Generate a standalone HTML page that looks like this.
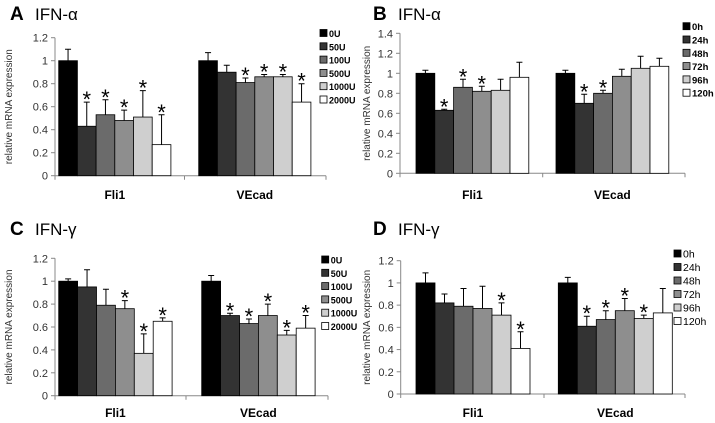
<!DOCTYPE html>
<html><head><meta charset="utf-8"><style>
body{margin:0;background:#fff}
svg{display:block;font-family:"Liberation Sans",sans-serif}
</style></head><body>
<svg id="fig" width="715" height="423" viewBox="0 0 715 423"></svg>
<script>
const categories = ["Fli1","VEcad"];
const doseLabels = ["0U","50U","100U","500U","1000U","2000U"];
const timeLabels = ["0h","24h","48h","72h","96h","120h"];
const colors = ["#000","#333","#6b6b6b","#8e8e8e","#cfcfcf","#fff"];

const aVals = [[1,0.43,0.53,0.48,0.51,0.27],[1,0.9,0.81,0.86,0.86,0.64]];
const aErr  = [[1.1,0.64,0.66,0.57,0.74,0.53],[1.07,0.96,0.85,0.88,0.88,0.8]];
const aStar = [[0,1,1,1,1,1],[0,0,1,1,1,1]];
const bVals = [[1,0.63,0.86,0.82,0.83,0.96],[1,0.7,0.8,0.97,1.05,1.07]];
const bErr  = [[1.03,0.64,0.94,0.87,0.94,1.11],[1.03,0.79,0.83,1.04,1.17,1.15]];
const bStar = [[0,1,1,1,0,0],[0,1,1,0,0,0]];
const cVals = [[1,0.95,0.79,0.76,0.37,0.65],[1,0.7,0.63,0.7,0.53,0.59]];
const cErr  = [[1.02,1.1,0.93,0.83,0.54,0.68],[1.05,0.72,0.67,0.8,0.57,0.7]];
const cStar = [[0,0,0,1,1,1],[0,1,1,1,1,1]];
const dVals = [[1,0.82,0.79,0.77,0.71,0.41],[1,0.61,0.67,0.75,0.68,0.73]];
const dErr  = [[1.09,0.9,0.95,0.97,0.82,0.56],[1.05,0.7,0.75,0.86,0.71,0.95]];
const dStar = [[0,0,0,0,1,1],[0,1,1,1,1,0]];
const ticks12 = ["0","0.2","0.4","0.6","0.8","1","1.2"];
const ticks14 = ["0","0.2","0.4","0.6","0.8","1","1.2","1.4"];

const NS="http://www.w3.org/2000/svg";
const svg=document.getElementById('fig');
function mk(tag,attrs,parent,text){const e=document.createElementNS(NS,tag);for(const k in attrs)e.setAttribute(k,attrs[k]);if(text!==undefined)e.textContent=text;(parent||svg).appendChild(e);return e;}

function panel(p){
  const g=mk('g',{});
  
  
  const ymax=(p.ticks.length-1)*0.2;
  const y=v=>p.y0-(v/ymax)*(p.y0-p.yTop);
  const t1=mk('text',{x:p.tx,y:p.ty,'font-size':19,'font-weight':'bold'},g,p.letter);
  
  const t2=mk('text',{x:p.tx+25,y:p.ty,'font-size':17},g,p.title);
  
  const ya=mk('line',{x1:p.ax,y1:p.yTop,x2:p.ax,y2:p.y0,stroke:'#888','stroke-width':1},g);
  
  const xa=mk('line',{x1:p.ax,y1:p.y0,x2:p.axEnd,y2:p.y0,stroke:'#888','stroke-width':1},g);
  
  [p.ax,p.mid,p.axEnd].forEach(x=>mk('line',{x1:x,y1:p.y0,x2:x,y2:p.y0+4,stroke:'#888'},g));
  p.ticks.forEach((t,i)=>{
    const yy=y(i*0.2);
    mk('line',{x1:p.ax-4,y1:yy,x2:p.ax,y2:yy,stroke:'#888'},g);
    const tl=mk('text',{x:p.ax-7,y:yy+4,'font-size':11,'text-anchor':'end',fill:'#333'},g,t);
    
  });
  const yt=mk('text',{transform:`translate(${p.ytx},${(p.y0+p.yTop)/2}) rotate(-90)`,'font-size':10,'text-anchor':'middle',fill:'#333'},g,'relative mRNA expression');
  
  categories.forEach((c,ci)=>{
    const gx=p.gx[ci];
    const cl=mk('text',{x:gx+3*p.bw,y:p.catY,'font-size':12,'font-weight':'bold','text-anchor':'middle'},g,c);
    
    p.vals[ci].forEach((v,i)=>{
      const x=gx+i*p.bw, top=y(v), et=y(p.err[ci][i]), cx=x+p.bw/2;
      const r=mk('rect',{x:x,y:top,width:p.bw,height:p.y0-top,fill:colors[i],stroke:'#000','stroke-width':0.8},g);
      
      
      const e=mk('path',{d:`M${cx},${top}V${et}M${cx-3},${et}H${cx+3}`,stroke:'#000','stroke-width':1,fill:'none'},g);
      
      
      if(p.star[ci][i]){
        const s=mk('text',{x:cx,y:et+5,'font-size':22,'text-anchor':'middle'},g,'*');
        
        
      }
    });
  });
  p.labels.forEach((l,i)=>{
    const yy=p.ly+i*p.ls;
    const sq=mk('rect',{x:p.lx,y:yy-4,width:7,height:7,fill:colors[i],stroke:'#000','stroke-width':0.8},g);
    
    const lt=mk('text',{x:p.lx+9,y:yy+3.5,'font-size':p.lfs,'font-weight':p.lfw},g,l);
    
  });
}
panel({letter:'A',title:'IFN-α',tx:10,ty:20,ax:55,axEnd:326,mid:184.5,y0:175.7,yTop:37.7,ticks:ticks12,ytx:12,gx:[58.7,198.7],bw:18.7,catY:199,vals:aVals,err:aErr,star:aStar,labels:doseLabels,lx:320,ly:33.5,ls:13.3,lfs:9,lfw:'bold'});
panel({letter:'B',title:'IFN-α',tx:373,ty:20,ax:400,axEnd:685,mid:542.7,y0:173.3,yTop:33.3,ticks:ticks14,ytx:370,gx:[416,556],bw:18.8,catY:199,vals:bVals,err:bErr,star:bStar,labels:timeLabels,lx:683,ly:26.7,ls:13.3,lfs:9.5,lfw:'bold'});
panel({letter:'C',title:'IFN-γ',tx:10,ty:235,ax:55,axEnd:328,mid:186,y0:395.7,yTop:258.3,ticks:ticks12,ytx:12,gx:[58.7,201.7],bw:18.9,catY:417,vals:cVals,err:cErr,star:cStar,labels:doseLabels,lx:321.7,ly:260,ls:13.3,lfs:9,lfw:'bold'});
panel({letter:'D',title:'IFN-γ',tx:373,ty:235,ax:400.7,axEnd:685,mid:544,y0:394,yTop:260.7,ticks:ticks12,ytx:370,gx:[416,558.3],bw:19,catY:417,vals:dVals,err:dErr,star:dStar,labels:timeLabels,lx:674,ly:254,ls:13.5,lfs:10.5,lfw:'normal'});
</script>
</body></html>
